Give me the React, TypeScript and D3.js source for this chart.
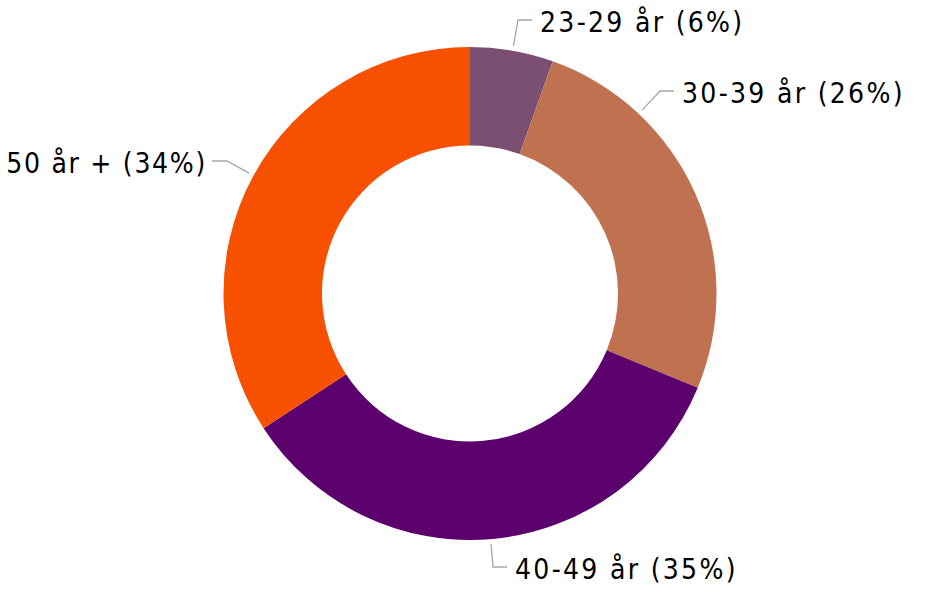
import React from "react";
import * as d3 from "d3";

const categories = ["23-29 år", "30-39 år", "40-49 år", "50 år +"];
const values = [5.45, 25.8, 34.55, 34.2];
const percentLabels = ["6%", "26%", "35%", "34%"];
const colors = ["#7B4F72", "#C0714F", "#5C006E", "#F75000"];

// label layout: elbow point of the leader line, side of text
const labelLayout = [
  { elbow: [518, 20], side: "right" },
  { elbow: [660, 91], side: "right" },
  { elbow: [493, 567], side: "right" },
  { elbow: [227, 161], side: "left" },
];

const W = 926;
const H = 599;
const cx = 470;
const cy = 293.5;
const outerR = 246.5;
const innerR = 148;

export default function App() {
  const pie = d3.pie<number>().sort(null).value((d) => d);
  const arcs = pie(values);
  const arc = d3.arc<d3.PieArcDatum<number>>().innerRadius(innerR).outerRadius(outerR);

  return (
    <svg
      width={W}
      height={H}
      style={{ position: "absolute", left: 0, top: 0, background: "#fff" }}
    >
      <g transform={`translate(${cx},${cy})`}>
        {arcs.map((a, i) => (
          <path key={i} d={arc(a) || ""} fill={colors[i]} />
        ))}
      </g>
      {labelLayout.map((l, i) => {
        const [ex, ey] = l.elbow;
        const dx = ex - cx;
        const dy = ey - cy;
        const len = Math.sqrt(dx * dx + dy * dy);
        const sx = cx + (dx / len) * (outerR + 5);
        const sy = cy + (dy / len) * (outerR + 5);
        const hx = l.side === "right" ? ex + 14 : ex - 15;
        const tx = l.side === "right" ? hx + 8 : hx - 5;
        const line = d3.line()([
          [sx, sy],
          [ex, ey],
          [hx, ey],
        ]);
        return (
          <g key={i}>
            <path d={line || ""} fill="none" stroke="#A6A6A6" strokeWidth={1.3} />
            <text
              x={tx}
              y={ey + 12}
              textAnchor={l.side === "right" ? "start" : "end"}
              fontFamily="'DejaVu Sans Condensed', 'DejaVu Sans', sans-serif"
              fontSize={28}
              letterSpacing={l.side === "right" ? 2.3 : 1.7}
              fill="#000"
            >
              {`${categories[i]} (${percentLabels[i]})`}
            </text>
          </g>
        );
      })}
    </svg>
  );
}
